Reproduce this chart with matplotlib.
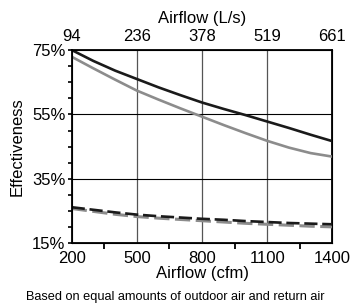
import matplotlib
matplotlib.use("Agg")
import matplotlib.pyplot as plt
from matplotlib.ticker import FixedLocator

plt.rcParams["font.family"] = ["Liberation Sans", "DejaVu Sans"]

# airflow in cfm (bottom axis)
cfm = [200, 300, 400, 500, 600, 700, 800, 900, 1000, 1100, 1200, 1300, 1400]
# effectiveness (%)
black_solid = [75.0, 71.6, 68.6, 66.0, 63.4, 61.0, 58.7, 56.7, 54.8, 52.8, 50.8, 48.7, 46.7]
gray_solid = [72.9, 69.3, 65.8, 62.4, 59.6, 56.9, 54.3, 51.7, 49.2, 46.8, 44.7, 43.0, 41.9]
black_dash = [26.2, 25.4, 24.6, 23.9, 23.4, 23.0, 22.6, 22.3, 21.9, 21.6, 21.3, 21.1, 20.9]
gray_dash = [25.8, 24.9, 24.0, 23.3, 22.8, 22.4, 22.0, 21.6, 21.2, 20.9, 20.6, 20.3, 20.1]

cfm_ticks = [200, 500, 800, 1100, 1400]
cfm_minor = [350, 650, 950, 1250]
ls_labels = ["94", "236", "378", "519", "661"]
y_ticks = [15, 35, 55, 75]
y_minor = [20, 25, 30, 40, 45, 50, 60, 65, 70]

fig = plt.figure(figsize=(3.51, 3.04), dpi=100)
ax = fig.add_axes([0.2042, 0.1997, 0.7427, 0.6358])

# grid
for x in [500, 800, 1100]:
    ax.axvline(x, color="#555555", lw=0.9, zorder=1)
for y in [35, 55]:
    ax.axhline(y, color="black", lw=0.8, zorder=1)

ax.plot(cfm, gray_solid, color="#8c8c8c", lw=1.9, zorder=3)
ax.plot(cfm, black_solid, color="#1a1a1a", lw=1.9, zorder=4)
ax.plot(cfm, gray_dash, color="#8c8c8c", lw=2.2, dashes=(5, 1.8), zorder=3)
ax.plot(cfm, black_dash, color="#1a1a1a", lw=1.9, dashes=(5, 1.8), zorder=4)

ax.set_xlim(200, 1400)
ax.set_ylim(15, 75)
ax.set_xticks(cfm_ticks)
ax.set_xticklabels([str(v) for v in cfm_ticks])
ax.xaxis.set_minor_locator(FixedLocator(cfm_minor))
ax.set_yticks(y_ticks)
ax.set_yticklabels([f"{v}%" for v in y_ticks])
ax.yaxis.set_minor_locator(FixedLocator(y_minor))

ax.tick_params(axis="x", which="major", length=0, labelsize=12, pad=5.5)
ax.tick_params(axis="x", which="minor", length=4, width=1.3, direction="out")
ax.tick_params(axis="y", which="both", length=3, width=1.2, direction="out", labelsize=12, pad=1.5)

for s in ax.spines.values():
    s.set_linewidth(1.3)

ax.set_xlabel("Airflow (cfm)", fontsize=12, labelpad=0)
ax.set_ylabel("Effectiveness", fontsize=12, labelpad=5.5)

top = ax.twiny()
top.set_xlim(ax.get_xlim())
top.set_xticks(cfm_ticks)
top.set_xticklabels(ls_labels)
top.tick_params(axis="x", length=0, labelsize=12, pad=4)
top.set_xlabel("Airflow (L/s)", fontsize=12, labelpad=5)

fig.text(0.5, 0.022, "Based on equal amounts of outdoor air and return air",
         ha="center", va="center", fontsize=9.2)

fig.savefig("out.png", dpi=100)
